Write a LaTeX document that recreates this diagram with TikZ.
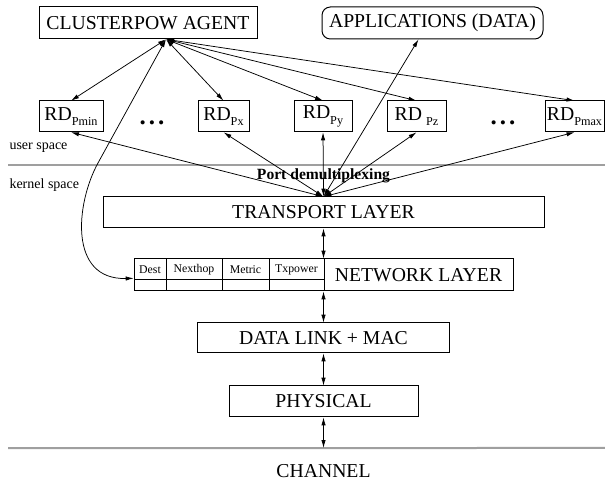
\documentclass[tikz,border=0pt]{standalone}
\usepackage{fontspec}
\setmainfont{Liberation Serif}
\usepackage{xcolor}
\usepackage{tikz}
\usetikzlibrary{calc}
\usetikzlibrary{arrows.meta,positioning}

\tikzset{
	layer/.style={draw,line width=0.6pt,inner sep=0pt,font=\fontsize{19.7}{22}\selectfont},
	cell/.style={draw,line width=0.6pt,inner sep=0pt,font=\fontsize{11.8}{13}\selectfont},
	link/.style={{Latex[length=4.8pt,width=2.6pt]}-{Latex[length=4.8pt,width=2.6pt]},line width=0.45pt},
	spaceline/.style={gray!75,line width=1.2pt},
	small/.style={font=\fontsize{14}{15}\selectfont},
	dotrow/.style={font=\fontsize{25}{26}\selectfont\bfseries}
}
\newcommand{\rdp}[1]{RD\raisebox{-0.6ex}{\fontsize{12.2}{13}\selectfont #1}}

\begin{document}
\begin{tikzpicture}[x=1pt,y=-1pt,scale=0.6,transform shape]
	\useasboundingbox (0,0) rectangle (605,481);
	% user space
	\node[layer,minimum width=218pt,minimum height=32pt] (agent) at (148,23) {CLUSTERPOW AGENT};
	\node[layer,rounded corners=5pt,minimum width=221pt,minimum height=32pt] (apps) at (432.5,23) {APPLICATIONS (DATA)};
	\node[layer,minimum width=64pt,minimum height=31pt] (rdmin) at (71,116.5) {\rdp{Pmin}};
	\node[layer,minimum width=51pt,minimum height=31pt] (rdx) at (223.5,116.5) {\rdp{Px}};
	\node[layer,minimum width=58pt,minimum height=31pt] (rdy) at (323,116.5) {\rdp{Py}};
	\node[layer,minimum width=59pt,minimum height=31pt] (rdz) at (416.5,116.5) {\rdp{\hspace{4pt}Pz}};
	\node[layer,minimum width=59pt,minimum height=31pt] (rdmax) at (574.5,116.5) {\rdp{Pmax}};
	\node[dotrow] (dotsa) at (152,123) {.\hspace{3pt}.\hspace{3pt}.};
	\node[dotrow] (dotsb) at (503,123) {.\hspace{3pt}.\hspace{3pt}.};
	\node[small,anchor=west] (user) at (6,148) {user space};
	\draw[spaceline] (8,165) -- (605,165);
	\node[small,anchor=west] (kernel) at (6,185) {kernel space};
	\node[font=\fontsize{15.6}{17}\selectfont\bfseries] (demux) at (323.5,176) {Port demultiplexing};
	% kernel space
	\node[layer,minimum width=441pt,minimum height=31pt] (transport) at (323.5,212.5) {TRANSPORT LAYER};
	\node[layer,minimum width=189pt,minimum height=32pt] (network) at (418.5,275) {NETWORK LAYER};
	\node[cell,minimum width=32pt,minimum height=21pt] (dest) at (150,269.5) {Dest};
	\node[cell,minimum width=56pt,minimum height=21pt] (nexthop) at (194,269.5) {Nexthop};
	\node[cell,minimum width=47pt,minimum height=21pt] (metric) at (245.5,269.5) {Metric};
	\node[cell,minimum width=55pt,minimum height=21pt] (txpower) at (296.5,269.5) {Txpower};
	\node[cell,minimum width=32pt,minimum height=11pt] (destv) at (150,285.5) {};
	\node[cell,minimum width=56pt,minimum height=11pt] (nexthopv) at (194,285.5) {};
	\node[cell,minimum width=47pt,minimum height=11pt] (metricv) at (245.5,285.5) {};
	\node[cell,minimum width=55pt,minimum height=11pt] (txpowerv) at (296.5,285.5) {};
	\node[layer,minimum width=252pt,minimum height=30pt] (datalink) at (323.5,338) {DATA LINK + MAC};
	\node[layer,minimum width=189pt,minimum height=31pt] (physical) at (323.5,401.5) {PHYSICAL};
	\coordinate (chan) at (8,448);
	\draw[spaceline] (chan) -- (605,448);
	\node[font=\fontsize{19.7}{22}\selectfont] (channel) at (323.5,471) {CHANNEL};
	% arrows
	\coordinate (hub) at ($(agent.south)+(18,0)$);
	\foreach \n in {rdmin,rdx,rdy,rdz,rdmax}
		\draw[link] (hub) -- (\n.north);
	\foreach \n in {rdmin,rdx,rdy,rdz,rdmax}
		\draw[link] (transport.north) -- (\n.south);
	\draw[link] (transport.north) -- ($(apps.south)+(-14,0)$);
	\draw[link] (hub) -- (98,163) .. controls (76,203) and (68,280) .. ($(dest.south west)+(0,-2)$);
	\draw[link] (transport.south) -- (transport.south |- network.north);
	\draw[link] (transport.south |- network.south) -- (datalink.north);
	\draw[link] (datalink.south) -- (physical.north);
	\draw[link] (physical.south) -- (physical.south |- chan);
\end{tikzpicture}
\end{document}
